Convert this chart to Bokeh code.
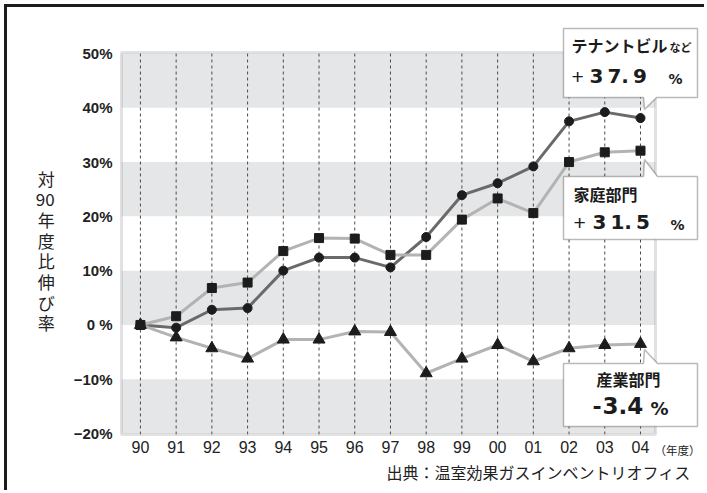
from bokeh.plotting import figure
from bokeh.models import Range1d, FixedTicker, Label, PolyAnnotation, BoxAnnotation, ColumnDataSource
from bokeh.core.properties import value
from bokeh.embed import file_html
from bokeh.resources import INLINE

# ---- data ----
years = ["90", "91", "92", "93", "94", "95", "96", "97", "98", "99", "00", "01", "02", "03", "04"]
tenant = [0, -0.5, 2.8, 3.1, 10.0, 12.4, 12.4, 10.6, 16.2, 23.9, 26.1, 29.2, 37.5, 39.2, 38.1]
household = [0, 1.6, 6.8, 7.8, 13.6, 16.0, 15.9, 12.9, 12.9, 19.4, 23.3, 20.6, 30.0, 31.8, 32.1]
industry = [0, -2.3, -4.3, -6.2, -2.7, -2.7, -1.2, -1.3, -8.9, -6.2, -3.7, -6.7, -4.3, -3.7, -3.5]
y_ticks = [-20, -10, 0, 10, 20, 30, 40, 50]
y_tick_labels = ["\u221220%", "\u221210%", "0 %", "10%", "20%", "30%", "40%", "50%"]
ylabel_chars = ["対", "90", "年", "度", "比", "伸", "び", "率"]
callouts = [
    ("テナントビル", "など", "+", "3\u20097.\u20099", "%"),
    ("家庭部門", "", "+", "3\u20091.\u20095", "%"),
    ("産業部門", "", "-", "3.4", "%"),
]
source_text = "出典：温室効果ガスインベントリオフィス"
unit_text = "（年度）"

xs = list(range(len(years)))
src = ColumnDataSource(dict(x=xs, years=years, tenant=tenant, household=household, industry=industry))

# ---- geometry (page pixels) ----
PL, PR, PT, PB = 121, 655, 52, 434        # plot area on the page
X0, X1 = -0.53, 14.42                      # plot area data range (x)
Y0, Y1 = -20.18, 50.18                     # plot area data range (y)
OX, OY = 7, 7                              # canvas origin on page (4px margin + 3px border)
W, H = 700, 486
FRAME_L = 119                              # frame left on page
sx = (X1 - X0) / (PR - PL)
sy = (Y1 - Y0) / (PB - PT)
x_start = X0 - (PL - FRAME_L) * sx
x_end = X0 + (OX + W - PL) * sx
y_end = Y1 + (PT - OY) * sy
y_start = Y0 - (OY + H - PB) * sy


def cx(px):
    return X0 + (px - PL) * sx


def cy(py):
    return Y1 - (py - PT) * sy


p = figure(width=W, height=H, x_range=Range1d(x_start, x_end), y_range=Range1d(y_start, y_end),
           output_backend="svg", toolbar_location=None, x_axis_location=None,
           min_border_left=FRAME_L - OX, min_border_right=0, min_border_top=0, min_border_bottom=0)
p.styles = {"margin-left": "4px", "margin-top": "4px",
            "border-top": "3px solid #1c1c1c", "border-left": "3px solid #1c1c1c"}
p.background_fill_color = "white"
p.border_fill_color = "white"
p.outline_line_color = None
p.grid.grid_line_color = None

# y axis (real axis)
ya = p.yaxis[0]
ya.ticker = FixedTicker(ticks=y_ticks)
ya.major_label_overrides = {t: l for t, l in zip(y_ticks, y_tick_labels)}
ya.axis_line_color = None
ya.major_tick_line_color = None
ya.minor_tick_line_color = None
ya.major_label_text_color = "#222222"
ya.major_label_text_font = "Liberation Sans"
ya.major_label_text_font_size = "15px"
ya.major_label_text_font_style = "bold"
ya.major_label_standoff = 1
ya.axis_label = "\n".join(ylabel_chars)
ya.axis_label_orientation = "horizontal"
ya.axis_label_text_font = "Noto Sans CJK JP"
ya.axis_label_text_font_size = "17px"
ya.axis_label_text_font_style = "normal"
ya.axis_label_text_color = "#222222"
ya.axis_label_text_line_height = 0.825
ya.axis_label_standoff = 16

# plot-area bands
for lo in y_ticks[0:-1:2]:
    p.add_layout(BoxAnnotation(left=X0, right=X1, bottom=lo, top=lo + 10, fill_color="#e5e6e7",
                               fill_alpha=1, line_color=None, level="underlay"))

# dashed year lines
p.segment(x0="x", y0=Y0, x1="x", y1=Y1, source=src, line_color="#4a4a4a", line_width=1,
          line_dash="3 3")

# series
p.line("x", "tenant", source=src, line_color="#6a6a6a", line_width=3)
p.line("x", "household", source=src, line_color="#b3b3b3", line_width=3)
p.line("x", "industry", source=src, line_color="#b3b3b3", line_width=3)
p.scatter("x", "tenant", source=src, marker="circle", size=9, color="#1c1c1c")
p.scatter("x", "household", source=src, marker="square", size=9, color="#1c1c1c")
p.scatter("x", "industry", source=src, marker="triangle", size=12, color="#1c1c1c")

# x tick labels
p.text(x="x", y=cy(446), text="years", source=src, text_font=value("Liberation Sans"),
       text_font_size="16px", text_align="center", text_baseline="middle", text_color="#222222")

# plot-area outline
p.add_layout(BoxAnnotation(left=X0, right=X1, bottom=Y0, top=Y1, fill_alpha=0,
                           line_color="#9e9e9e", line_width=3))

# callout boxes
shapes = [
    [(563, 28), (697, 28), (697, 97), (656, 97), (644, 109), (643, 97), (563, 97)],
    [(563, 176), (643, 176), (644, 159), (657, 176), (697, 176), (697, 239), (563, 239)],
    [(563, 363), (643, 363), (644, 349), (657, 363), (697, 363), (697, 426), (563, 426)],
]
for pts in shapes:
    p.add_layout(PolyAnnotation(xs=[cx(a) for a, _ in pts], ys=[cy(b) for _, b in pts],
                                fill_color="white", fill_alpha=1, line_color="#1c1c1c",
                                line_width=1.5))

JP = "Noto Sans CJK JP"
DV = "DejaVu Sans"


def lab(px, py, text, size, style="bold", align="left", font=JP, color="#1c1c1c"):
    p.add_layout(Label(x=cx(px), y=cy(py), text=text, text_font=font, text_font_size=size,
                       text_font_style=style, text_align=align, text_baseline="middle",
                       text_color=color))


# tenant
lab(571, 44, callouts[0][0], "16px")
lab(669, 46, callouts[0][1], "11px")
lab(571, 76, callouts[0][2], "21px", style="normal", font="Liberation Sans")
lab(589, 75, callouts[0][3], "20px", font=DV)
lab(668, 78, callouts[0][4], "14px", font=DV)
# household
lab(573, 193, callouts[1][0], "16px")
lab(573, 222, callouts[1][2], "21px", style="normal", font="Liberation Sans")
lab(592, 221, callouts[1][3], "20px", font=DV)
lab(670, 224, callouts[1][4], "14px", font=DV)
# industry
lab(628, 378, callouts[2][0], "16px", align="center")
lab(592, 405, callouts[2][2], "22px", font=DV)
lab(602, 405, callouts[2][3], "23px", font=DV)
lab(650, 408, callouts[2][4], "18px", font=DV)

# unit and source
lab(654, 449, unit_text, "11.5px", style="normal", color="#222222")
lab(690, 471, source_text, "16px", style="normal", align="right", color="#222222")

open("out.html", "w").write(file_html(p, INLINE))
